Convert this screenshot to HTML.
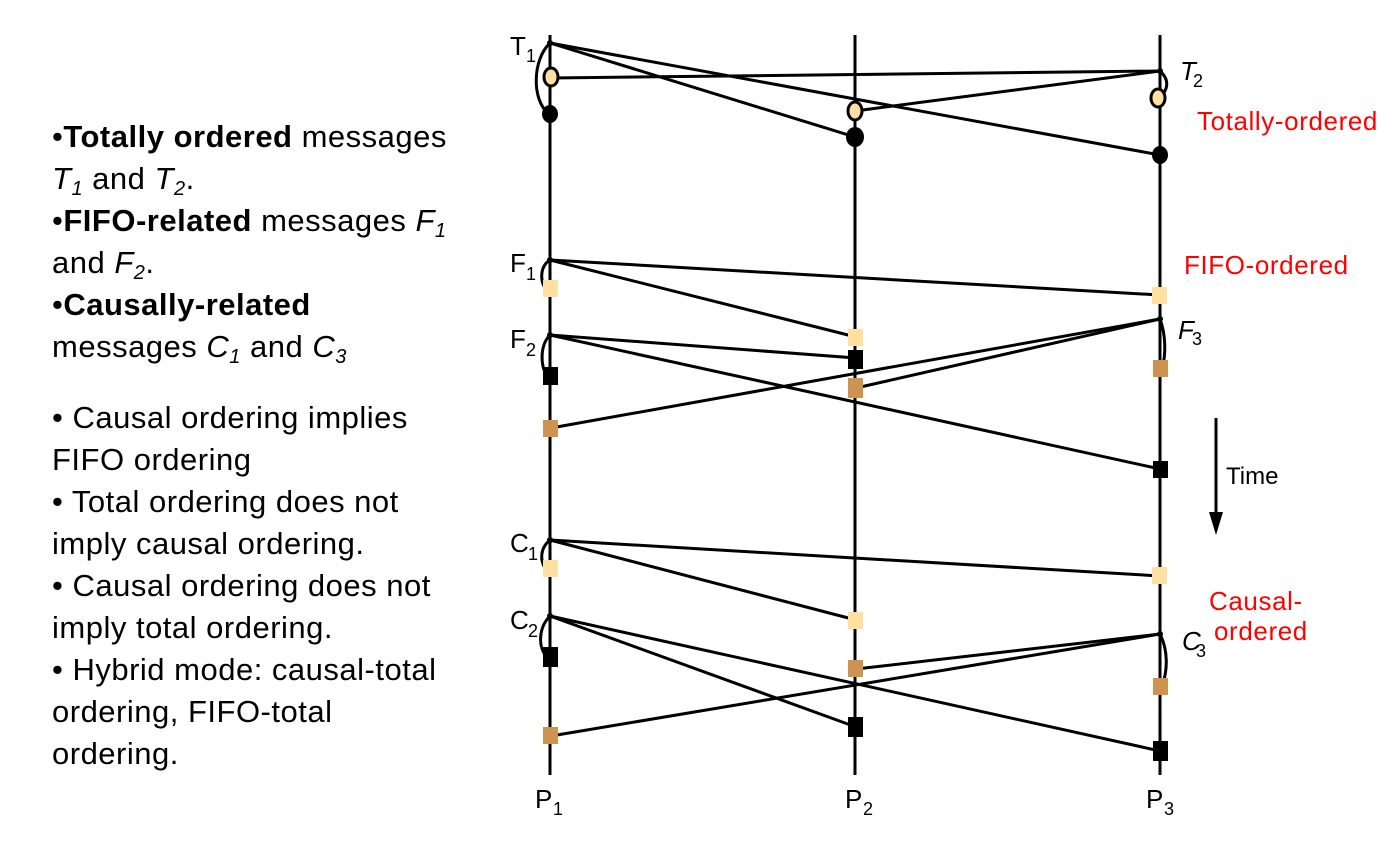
<!DOCTYPE html>
<html><head><meta charset="utf-8"><style>
body{margin:0;width:1392px;height:845px;background:#fff;overflow:hidden;font-family:"Liberation Sans",sans-serif}
.t{position:absolute;left:52px;font-size:31px;line-height:42px;color:#000;white-space:nowrap;letter-spacing:0.5px}
sub{font-size:20px;line-height:0;vertical-align:-6px}
</style></head><body>
<div class="t" style="top:116px">•<b>Totally ordered</b> messages<br><i>T<sub>1</sub></i> and <i>T<sub>2</sub></i>.<br>•<b>FIFO-related</b> messages <i>F<sub>1</sub></i><br>and <i>F<sub>2</sub></i>.<br>•<b>Causally-related</b><br>messages <i>C<sub>1</sub></i> and <i>C<sub>3</sub></i></div>
<div class="t" style="top:397px">• Causal ordering implies<br>FIFO ordering<br>• Total ordering does not<br>imply causal ordering.<br>• Causal ordering does not<br>imply total ordering.<br>• Hybrid mode: causal-total<br>ordering, FIFO-total<br>ordering.</div>
<svg width="1392" height="845" style="position:absolute;left:0;top:0" font-family="Liberation Sans,sans-serif">
<g stroke="#000" stroke-width="3" fill="none">
<line x1="550" y1="35" x2="550" y2="775"/><line x1="855" y1="35" x2="855" y2="775"/><line x1="1160" y1="35" x2="1160" y2="775"/>
<line x1="550" y1="43" x2="855" y2="137"/><line x1="550" y1="43" x2="1160" y2="155"/>
<line x1="1160" y1="71" x2="551" y2="78"/><line x1="1160" y1="71" x2="855" y2="111"/>
<line x1="550" y1="260" x2="1160" y2="295"/><line x1="550" y1="260" x2="856" y2="337"/>
<line x1="550" y1="335" x2="856" y2="358"/><line x1="550" y1="335" x2="1160" y2="469"/>
<line x1="1160" y1="319" x2="551" y2="428"/><line x1="1160" y1="319" x2="856" y2="388"/>
<line x1="550" y1="540" x2="1160" y2="576"/><line x1="550" y1="540" x2="856" y2="620"/>
<line x1="550" y1="616" x2="856" y2="727"/><line x1="550" y1="616" x2="1160" y2="751"/>
<line x1="1160" y1="634" x2="551" y2="736"/><line x1="1160" y1="634" x2="856" y2="669"/>
<path d="M550 43 C532 60 532 100 548 113"/>
<path d="M1160 71 C1170 80 1168 90 1160 97"/>
<path d="M550 260 C540 266 540 280 545 288"/>
<path d="M550 335 C540 345 540 365 547 376"/>
<path d="M1160 319 C1166 335 1166 355 1162 369"/>
<path d="M550 540 C540 548 540 560 545 568"/>
<path d="M550 616 C538 628 538 648 547 657"/>
<path d="M1160 634 C1168 650 1168 670 1162 686"/>
<line x1="1216" y1="418" x2="1216" y2="515"/>
</g>
<polygon points="1209,512 1223,512 1216,535" fill="#000"/>
<g fill="#000"><ellipse cx="550" cy="114" rx="8" ry="9"/><ellipse cx="855" cy="137" rx="9" ry="10"/><ellipse cx="1160" cy="155" rx="8" ry="9"/>
<circle cx="550" cy="43" r="3"/><circle cx="1160" cy="71" r="3"/><circle cx="550" cy="260" r="3"/><circle cx="550" cy="335" r="3"/><circle cx="1160" cy="319" r="3"/><circle cx="550" cy="540" r="3"/><circle cx="550" cy="616" r="3"/><circle cx="1160" cy="634" r="3"/></g>
<g fill="#FFE0A0" stroke="#000" stroke-width="3"><ellipse cx="551" cy="77" rx="7" ry="9"/><ellipse cx="855" cy="111" rx="7" ry="9"/><ellipse cx="1158" cy="98" rx="7" ry="9"/></g>
<g fill="#FFE0A0"><rect x="543" y="280" width="15" height="17"/><rect x="1152" y="287" width="15" height="17"/><rect x="848" y="329" width="15" height="17"/>
<rect x="543" y="560" width="15" height="17"/><rect x="1152" y="567" width="15" height="17"/><rect x="848" y="612" width="15" height="17"/></g>
<g fill="#000"><rect x="543" y="367" width="15" height="18"/><rect x="848" y="350" width="15" height="19"/><rect x="1153" y="461" width="15" height="17"/>
<rect x="543" y="647" width="15" height="20"/><rect x="848" y="717" width="15" height="20"/><rect x="1153" y="741" width="15" height="20"/></g>
<g fill="#CC9450"><rect x="543" y="420" width="15" height="17"/><rect x="848" y="378" width="15" height="20"/><rect x="1153" y="360" width="15" height="17"/>
<rect x="543" y="727" width="15" height="17"/><rect x="848" y="660" width="15" height="17"/><rect x="1153" y="678" width="15" height="17"/></g>
<g font-size="26" fill="#000">
<text x="510" y="55">T</text><text x="526" y="62" font-size="18">1</text>
<text x="1180" y="80" font-style="italic">T</text><text x="1193" y="87" font-size="18">2</text>
<text x="510" y="272">F</text><text x="526" y="280" font-size="18">1</text>
<text x="510" y="348">F</text><text x="526" y="356" font-size="18">2</text>
<text x="1178" y="339" font-style="italic">F</text><text x="1192" y="345" font-size="18">3</text>
<text x="510" y="552">C</text><text x="528" y="560" font-size="18">1</text>
<text x="510" y="629">C</text><text x="528" y="637" font-size="18">2</text>
<text x="1182" y="650" font-style="italic">C</text><text x="1196" y="657" font-size="18">3</text>
<text x="535" y="808">P</text><text x="553" y="815" font-size="18">1</text>
<text x="845" y="808">P</text><text x="863" y="815" font-size="18">2</text>
<text x="1146" y="808">P</text><text x="1164" y="815" font-size="18">3</text>
<text x="1226" y="484" font-size="24">Time</text></g>
<g font-size="26" fill="#f00" letter-spacing="0.6"><text x="1197" y="130">Totally-ordered</text><text x="1184" y="274">FIFO-ordered</text><text x="1209" y="610">Causal-</text><text x="1214" y="640">ordered</text></g>
</svg>
</body></html>
